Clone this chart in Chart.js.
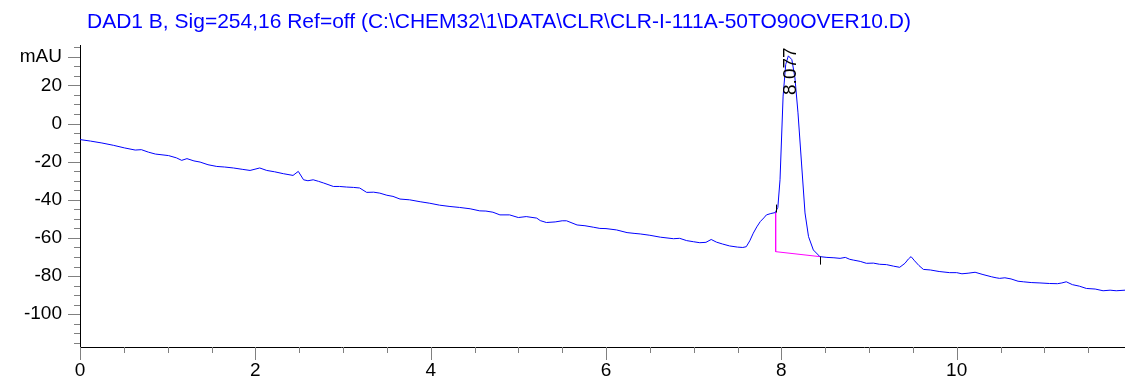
<!DOCTYPE html>
<html>
<head>
<meta charset="utf-8">
<script src="https://cdn.jsdelivr.net/npm/chart.js@4"></script>
<style>
  html, body { margin: 0; padding: 0; background: #fff; }
  #chromatogram { display: block; }
</style>
</head>
<body>
<canvas id="chromatogram" width="1125" height="379"></canvas>
<script>
const titleText = 'DAD1 B, Sig=254,16 Ref=off (C:\\CHEM32\\1\\DATA\\CLR\\CLR-I-111A-50TO90OVER10.D)';

// retention time (min) and absorbance (mAU)
const rtMin = [
  0.00, 0.12, 0.25, 0.38, 0.51, 0.63, 0.70, 0.78, 0.86, 1.01,
  1.10, 1.16, 1.22, 1.30, 1.37, 1.46, 1.56, 1.65, 1.75, 1.85,
  1.94, 2.05, 2.13, 2.22, 2.32, 2.43, 2.49, 2.55, 2.60, 2.66,
  2.72, 2.78, 2.89, 2.96, 3.04, 3.12, 3.19, 3.27, 3.35, 3.42,
  3.50, 3.57, 3.65, 3.76, 3.88, 3.99, 4.10, 4.22, 4.33, 4.45,
  4.56, 4.63, 4.71, 4.79, 4.90, 5.00, 5.09, 5.21, 5.25, 5.32,
  5.42, 5.50, 5.55, 5.67, 5.76, 5.86, 5.93, 6.00, 6.12, 6.24,
  6.32, 6.39, 6.50, 6.62, 6.77, 6.84, 6.92, 7.00, 7.07, 7.14,
  7.20, 7.26, 7.33, 7.41, 7.50, 7.56, 7.60, 7.64, 7.68, 7.72,
  7.76, 7.80, 7.83, 7.88, 7.93, 7.96, 7.985, 8.02, 8.05, 8.08,
  8.12, 8.155, 8.19, 8.23, 8.27, 8.31, 8.365, 8.44, 8.52, 8.60,
  8.67, 8.73, 8.78, 8.82, 8.90, 8.97, 9.05, 9.12, 9.20, 9.28,
  9.35, 9.41, 9.45, 9.48, 9.52, 9.57, 9.62, 9.70, 9.80, 9.92,
  10.00, 10.06, 10.13, 10.21, 10.30, 10.40, 10.45, 10.49, 10.55, 10.62,
  10.70, 10.76, 10.85, 10.95, 11.06, 11.15, 11.20, 11.25, 11.32, 11.40,
  11.48, 11.58, 11.67, 11.75, 11.82, 11.92
];
const signal = [
  -8.4, -9.2, -10.2, -11.4, -12.8, -13.9, -13.7, -15.0, -16.0, -16.8,
  -18.0, -19.3, -18.4, -19.6, -20.2, -21.6, -22.5, -22.8, -23.3, -24.0,
  -24.6, -23.3, -24.6, -25.3, -26.3, -27.2, -25.1, -29.5, -30.0, -29.5,
  -30.3, -31.2, -33.0, -33.0, -33.3, -33.5, -33.8, -36.1, -36.0, -36.5,
  -37.6, -38.2, -39.6, -40.0, -41.0, -41.8, -42.8, -43.5, -44.0, -44.7,
  -45.8, -45.9, -46.5, -47.9, -47.9, -49.3, -48.8, -49.6, -50.9, -51.9,
  -51.6, -51.0, -51.0, -53.2, -53.6, -54.4, -55.0, -55.1, -55.8, -57.2,
  -57.6, -57.9, -58.6, -59.6, -60.4, -60.2, -61.4, -62.0, -62.5, -62.3,
  -60.8, -62.2, -63.2, -64.2, -64.8, -65.0, -64.6, -61.5, -57.5, -54.2,
  -51.4, -49.5, -47.9, -47.2, -46.7, -44.0, -29.5, 14.4, 31.0, 35.5,
  33.5, 24.0, 5.6, -20.7, -46.9, -59.3, -66.3, -69.8, -70.2, -70.4,
  -70.7, -70.2, -71.2, -71.6, -72.3, -73.3, -73.2, -73.8, -74.0, -74.8,
  -75.4, -73.3, -71.0, -69.8, -72.0, -74.5, -76.5, -76.8, -77.6, -78.2,
  -78.2, -78.8, -78.5, -78.0, -79.2, -80.4, -80.9, -81.2, -80.9, -81.5,
  -82.7, -83.0, -83.4, -83.6, -83.9, -84.0, -83.6, -83.0, -84.5, -85.3,
  -86.5, -86.8, -87.7, -87.4, -87.7, -87.4
];

// integration of the main peak
const peakRT = 8.077;
const peakLabel = '8.077';
const baselineRT = [7.935, 7.935, 8.44];
const baselineAU = [-46.7, -67.2, -69.8];

// axis ticks
const xMajorTicks = [0, 2, 4, 6, 8, 10];
const yMajorTicks = [-100, -80, -60, -40, -20, 0, 20];
const yUnitTick = 35;
const yUnit = 'mAU';

const fontFamily = '"Liberation Sans", Arial, sans-serif';
const minorX = [];
for (let i = 0; i <= 23; i++) minorX.push(i * 0.5);
const minorY = [];
for (let v = -115; v <= 40; v += 5) minorY.push(v);

const trace = rtMin.map((t, i) => ({ x: t, y: signal[i] }));
const baseline = baselineRT.map((t, i) => ({ x: t, y: baselineAU[i] }));

const decorPlugin = {
  id: 'decor',
  afterDraw(chart) {
    const ctx = chart.ctx;
    const xs = chart.scales.x;
    const ys = chart.scales.y;
    const area = chart.chartArea;
    ctx.save();

    // title
    ctx.fillStyle = '#0000ff';
    ctx.font = '21px ' + fontFamily;
    ctx.textBaseline = 'alphabetic';
    ctx.textAlign = 'left';
    ctx.fillText(titleText, 87, 28);

    // tick marks
    ctx.strokeStyle = '#808080';
    ctx.lineWidth = 1;
    ctx.beginPath();
    minorX.forEach(v => {
      const px = Math.round(xs.getPixelForValue(v)) + 0.5;
      const len = xMajorTicks.includes(v) ? 13 : 6;
      ctx.moveTo(px, area.bottom);
      ctx.lineTo(px, area.bottom + len);
    });
    minorY.forEach(v => {
      const py = Math.round(ys.getPixelForValue(v)) + 0.5;
      const len = (yMajorTicks.includes(v) || v === yUnitTick) ? 12 : 6;
      ctx.moveTo(area.left, py);
      ctx.lineTo(area.left - len, py);
    });
    ctx.stroke();

    // peak start / end markers
    ctx.strokeStyle = '#000';
    ctx.beginPath();
    let px = Math.round(xs.getPixelForValue(baselineRT[0])) + 0.5;
    let py = ys.getPixelForValue(baselineAU[0]);
    ctx.moveTo(px, py);
    ctx.lineTo(px, py - 8);
    px = Math.round(xs.getPixelForValue(baselineRT[2])) + 0.5;
    py = ys.getPixelForValue(baselineAU[2]);
    ctx.moveTo(px, py);
    ctx.lineTo(px, py + 8);
    ctx.stroke();

    // retention time label
    ctx.fillStyle = '#000';
    ctx.font = '19px ' + fontFamily;
    ctx.translate(xs.getPixelForValue(peakRT) + 8, ys.getPixelForValue(15));
    ctx.rotate(-Math.PI / 2);
    ctx.textAlign = 'left';
    ctx.textBaseline = 'alphabetic';
    ctx.fillText(peakLabel, 0, 0);
    ctx.restore();
  }
};

new Chart(document.getElementById('chromatogram'), {
  type: 'line',
  data: {
    datasets: [
      {
        data: trace,
        borderColor: '#0000ff',
        borderWidth: 1,
        pointRadius: 0,
        tension: 0
      },
      {
        data: baseline,
        borderColor: '#ff00ff',
        borderWidth: 1,
        pointRadius: 0,
        tension: 0
      }
    ]
  },
  options: {
    responsive: false,
    animation: false,
    devicePixelRatio: 1,
    layout: { padding: { top: 45, right: 0, left: 0, bottom: 0 } },
    plugins: {
      legend: { display: false },
      tooltip: { enabled: false }
    },
    scales: {
      x: {
        type: 'linear',
        min: 0,
        max: 11.92,
        afterFit: (s) => { s.height = 32; },
        afterBuildTicks: (s) => { s.ticks = minorX.map(v => ({ value: v })); },
        border: { display: true, color: '#000', width: 1 },
        grid: { display: false, drawTicks: false },
        ticks: {
          autoSkip: false,
          maxRotation: 0,
          padding: 12,
          color: '#000',
          font: { family: fontFamily, size: 19 },
          callback: (v) => xMajorTicks.includes(v) ? String(v) : ''
        }
      },
      y: {
        min: -117.2,
        max: 41.2,
        afterFit: (s) => { s.width = 80; },
        afterBuildTicks: (s) => { s.ticks = minorY.map(v => ({ value: v })); },
        border: { display: true, color: '#000', width: 1 },
        grid: { display: false, drawTicks: false },
        ticks: {
          autoSkip: false,
          padding: 18,
          color: '#000',
          font: { family: fontFamily, size: 19 },
          callback: (v) => {
            if (v === yUnitTick) return yUnit;
            return yMajorTicks.includes(v) ? String(v) : '';
          }
        }
      }
    }
  },
  plugins: [decorPlugin]
});
</script>
</body>
</html>
